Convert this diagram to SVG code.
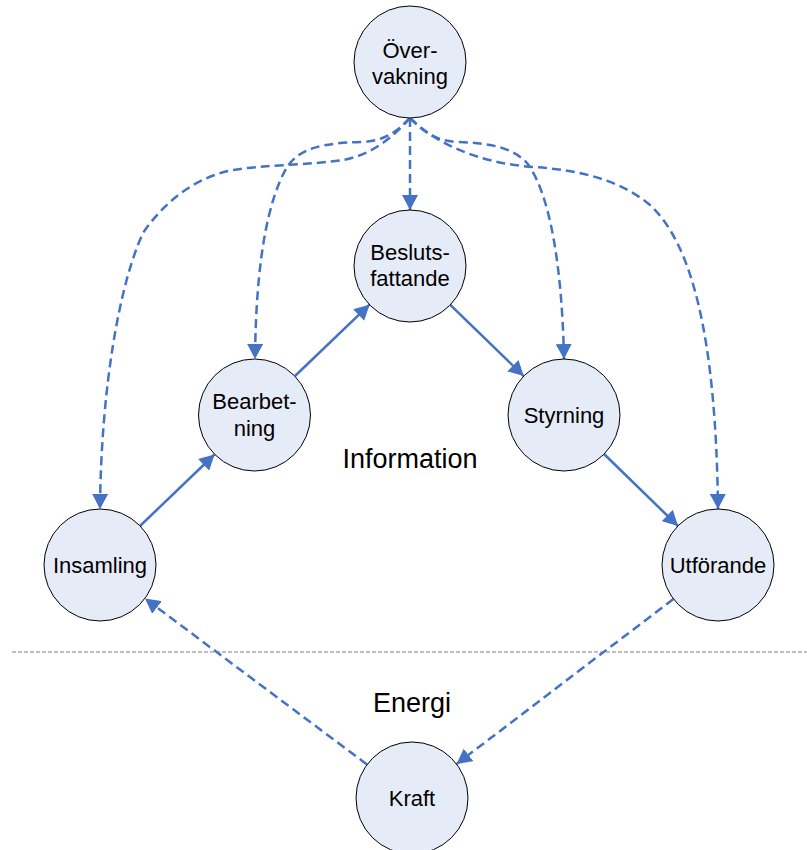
<svg xmlns="http://www.w3.org/2000/svg" width="807" height="850" viewBox="0 0 807 850">
  <style>
    .node circle { fill: #e6ecf7; stroke: #000; stroke-width: 1; }
    .node text, .label { font-family: "Liberation Sans", Arial, sans-serif; fill: #000; text-anchor: middle; }
    .node text { font-size: 22px; }
    .label { font-size: 27px; }
    .flow { fill: none; stroke: #4472c4; stroke-width: 2.5; marker-end: url(#head); }
    .dash { stroke-dasharray: 9 5; }
    .divider { stroke: #7f7f7f; stroke-width: 1; stroke-dasharray: 4 2; }
  </style>
  <defs>
    <marker id="head" viewBox="0 0 15 16" refX="15" refY="8" markerWidth="15" markerHeight="16" markerUnits="userSpaceOnUse" orient="auto">
      <path d="M0,0 L15,8 L0,16 z" fill="#4472c4"/>
    </marker>
  </defs>

  <rect width="807" height="850" fill="#fff"/>

  <!-- boundary between the information and energy domains -->
  <line class="divider" x1="12" y1="652" x2="807" y2="652"/>
  <text class="label" x="410" y="468">Information</text>
  <text class="label" x="412" y="712">Energi</text>

  <g id="connectors">
    <!-- monitoring links -->
    <path class="flow dash" d="M410,118 L410,210"/>
    <path class="flow dash" d="M410,118 C397,131 386,141 362,142 C322,143 300,148 287,167 C268,200 256,260 255,359"/>
    <path class="flow dash" d="M410,118 C394,136 372,155 343,160 C310,165 262,165 233,170 C192,178 162,205 143,233 C119,285 101,390 100,509"/>
    <path class="flow dash" d="M410,118 C423,131 434,141 458,142 C494,143 514,149 527,163 C549,192 562,262 564,359"/>
    <path class="flow dash" d="M410,118 C438,145 480,163 533,167 C580,170 620,180 650,205 C690,242 716,330 718,509"/>
    <!-- information chain -->
    <path class="flow" d="M140,526 L214.5,454.5"/>
    <path class="flow" d="M295,376 L369.5,304.7"/>
    <path class="flow" d="M450.3,304.9 L523.7,376.1"/>
    <path class="flow" d="M604,454 L678,526"/>
    <!-- energy loop -->
    <path class="flow dash" d="M673.4,599 L456.6,764"/>
    <path class="flow dash" d="M367,764.5 L145,598.5"/>
  </g>

  <g id="overvakning" class="node">
    <circle cx="410" cy="62" r="56"/>
    <text x="410" y="58">Över-</text>
    <text x="410" y="84">vakning</text>
  </g>
  <g id="beslutsfattande" class="node">
    <circle cx="410" cy="266" r="56"/>
    <text x="410" y="260">Besluts-</text>
    <text x="410" y="286">fattande</text>
  </g>
  <g id="bearbetning" class="node">
    <circle cx="254.5" cy="415" r="56"/>
    <text x="254.5" y="409">Bearbet-</text>
    <text x="254.5" y="436">ning</text>
  </g>
  <g id="styrning" class="node">
    <circle cx="564" cy="415" r="56"/>
    <text x="564" y="423">Styrning</text>
  </g>
  <g id="insamling" class="node">
    <circle cx="100" cy="565" r="56"/>
    <text x="100" y="573">Insamling</text>
  </g>
  <g id="utforande" class="node">
    <circle cx="718" cy="565" r="56"/>
    <text x="718" y="573">Utförande</text>
  </g>
  <g id="kraft" class="node">
    <circle cx="412" cy="798" r="56"/>
    <text x="412" y="806">Kraft</text>
  </g>
</svg>
